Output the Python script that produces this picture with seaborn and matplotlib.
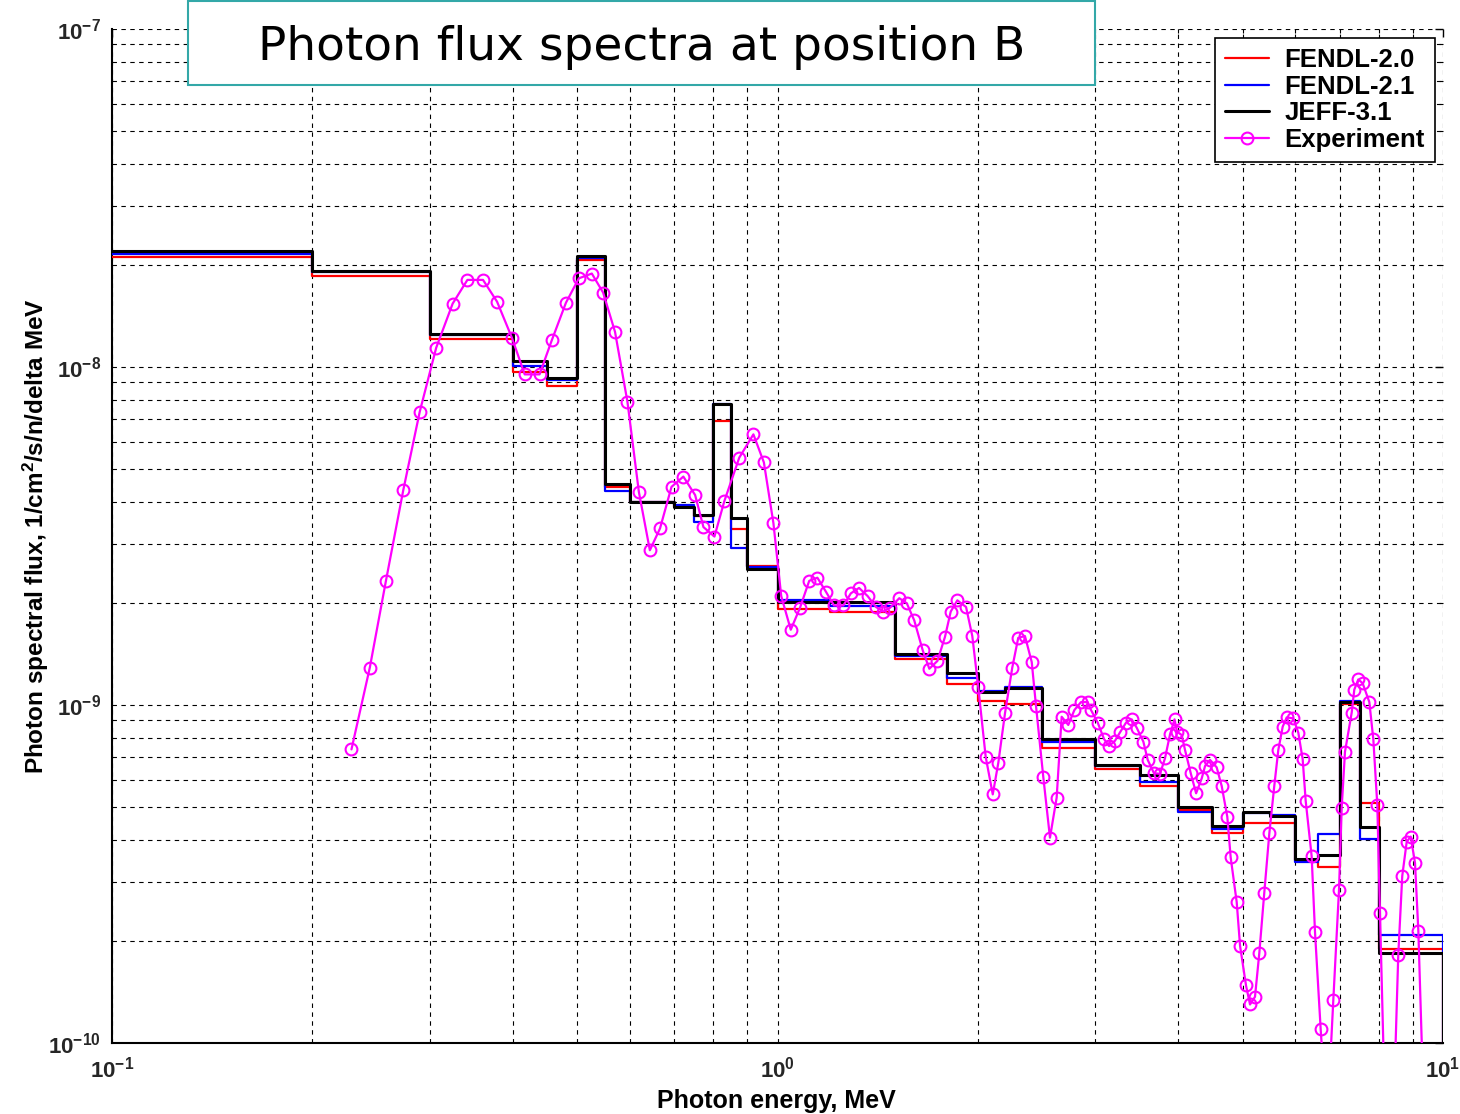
import matplotlib
matplotlib.use("Agg")
import matplotlib.pyplot as plt
from matplotlib.patches import Rectangle
import pandas as pd
import seaborn as sns

# Group boundaries of the calculated spectra, MeV
edges = [0.1, 0.2, 0.3, 0.4, 0.45, 0.5, 0.55, 0.6, 0.7, 0.75, 0.8, 0.85, 0.9, 1.0,
         1.2, 1.5, 1.8, 2.0, 2.2, 2.5, 3.0, 3.5, 4.0, 4.5, 5.0, 5.5, 6.0, 6.5, 7.0,
         7.5, 8.0, 10.0]

# Group fluxes, 1/cm2/s/n/delta MeV
fendl20 = [2.11e-8, 1.86e-8, 1.21e-8, 9.66e-9, 8.78e-9, 2.07e-8, 4.42e-9, 3.99e-9,
           3.85e-9, 3.62e-9, 6.92e-9, 3.32e-9, 2.58e-9, 1.92e-9, 1.88e-9, 1.37e-9,
           1.15e-9, 1.03e-9, 1.007e-9, 7.46e-10, 6.47e-10, 5.76e-10, 4.89e-10,
           4.18e-10, 4.48e-10, 4.48e-10, 3.48e-10, 3.32e-10, 1.007e-9, 5.13e-10,
           1.90e-10]
fendl21 = [2.16e-8, 1.91e-8, 1.24e-8, 1.01e-8, 9.15e-9, 2.10e-8, 4.30e-9, 3.99e-9,
           3.91e-9, 3.48e-9, 7.77e-9, 2.91e-9, 2.56e-9, 2.05e-9, 1.96e-9, 1.40e-9,
           1.20e-9, 1.10e-9, 1.13e-9, 7.77e-10, 6.60e-10, 5.90e-10, 4.82e-10,
           4.30e-10, 4.79e-10, 4.73e-10, 3.43e-10, 4.15e-10, 1.03e-9, 4.01e-10,
           2.09e-10]
jeff31 = [2.20e-8, 1.92e-8, 1.25e-8, 1.04e-8, 9.28e-9, 2.13e-8, 4.51e-9, 3.99e-9,
          3.85e-9, 3.65e-9, 7.77e-9, 3.57e-9, 2.53e-9, 2.02e-9, 2.02e-9, 1.42e-9,
          1.24e-9, 1.09e-9, 1.12e-9, 7.93e-10, 6.66e-10, 6.21e-10, 4.99e-10,
          4.39e-10, 4.82e-10, 4.69e-10, 3.50e-10, 3.60e-10, 1.02e-9, 4.36e-10,
          1.85e-10]

# Measured spectrum
exp_energy = [0.229, 0.244, 0.258, 0.274, 0.290, 0.307, 0.325, 0.342, 0.361, 0.379,
              0.399, 0.417, 0.439, 0.458, 0.481, 0.503, 0.526, 0.547, 0.570, 0.595,
              0.619, 0.643, 0.666, 0.693, 0.722, 0.752, 0.774, 0.804, 0.832, 0.876,
              0.920, 0.954, 0.986, 1.013, 1.047, 1.081, 1.116, 1.148, 1.183, 1.216,
              1.256, 1.289, 1.326, 1.366, 1.406, 1.442, 1.476, 1.524, 1.564, 1.605,
              1.653, 1.691, 1.739, 1.785, 1.821, 1.863, 1.920, 1.962, 2.003, 2.055,
              2.106, 2.147, 2.197, 2.253, 2.300, 2.354, 2.410, 2.446, 2.508, 2.567,
              2.627, 2.673, 2.735, 2.793, 2.858, 2.925, 2.959, 3.028, 3.095, 3.149,
              3.215, 3.271, 3.340, 3.406, 3.465, 3.546, 3.600, 3.679, 3.757, 3.822,
              3.889, 3.950, 3.984, 4.049, 4.096, 4.178, 4.256, 4.340, 4.390, 4.466,
              4.570, 4.650, 4.741, 4.797, 4.898, 4.955, 5.058, 5.129, 5.218, 5.297,
              5.388, 5.483, 5.578, 5.656, 5.743, 5.823, 5.958, 6.062, 6.154, 6.218,
              6.348, 6.422, 6.549, 6.694, 6.842, 6.978, 7.043, 7.124, 7.291, 7.357,
              7.459, 7.573, 7.750, 7.858, 7.967, 8.041, 8.294, 8.566, 8.685, 8.820,
              8.943, 9.077, 9.182, 9.333]
exp_flux = [7.39e-10, 1.29e-9, 2.33e-9, 4.33e-9, 7.37e-9, 1.14e-8, 1.54e-8, 1.81e-8, 1.81e-8, 1.56e-8,
            1.22e-8, 9.51e-9, 9.51e-9, 1.20e-8, 1.55e-8, 1.83e-8, 1.89e-8, 1.66e-8, 1.27e-8, 7.89e-9,
            4.27e-9, 2.87e-9, 3.33e-9, 4.42e-9, 4.74e-9, 4.18e-9, 3.36e-9, 3.15e-9, 4.01e-9, 5.39e-9,
            6.32e-9, 5.22e-9, 3.45e-9, 2.10e-9, 1.67e-9, 1.94e-9, 2.33e-9, 2.38e-9, 2.16e-9, 1.97e-9,
            1.97e-9, 2.14e-9, 2.22e-9, 2.10e-9, 1.95e-9, 1.89e-9, 1.94e-9, 2.07e-9, 2.00e-9, 1.78e-9,
            1.45e-9, 1.28e-9, 1.35e-9, 1.59e-9, 1.89e-9, 2.04e-9, 1.95e-9, 1.60e-9, 1.13e-9, 7.03e-10,
            5.44e-10, 6.75e-10, 9.45e-10, 1.29e-9, 1.58e-9, 1.60e-9, 1.34e-9, 9.93e-10, 6.14e-10, 4.05e-10,
            5.32e-10, 9.23e-10, 8.73e-10, 9.66e-10, 1.02e-9, 1.02e-9, 9.66e-10, 8.87e-10, 7.93e-10, 7.56e-10,
            7.84e-10, 8.30e-10, 8.87e-10, 9.07e-10, 8.57e-10, 7.79e-10, 6.88e-10, 6.28e-10, 6.26e-10, 6.96e-10,
            8.19e-10, 9.07e-10, 8.34e-10, 8.15e-10, 7.36e-10, 6.28e-10, 5.48e-10, 6.07e-10, 6.60e-10, 6.88e-10,
            6.54e-10, 5.76e-10, 4.67e-10, 3.54e-10, 2.61e-10, 1.94e-10, 1.48e-10, 1.30e-10, 1.37e-10, 1.85e-10,
            2.78e-10, 4.17e-10, 5.76e-10, 7.36e-10, 8.63e-10, 9.19e-10, 9.13e-10, 8.28e-10, 6.91e-10, 5.21e-10,
            3.57e-10, 2.13e-10, 1.10e-10, 5.7e-11, 1.34e-10, 2.84e-10, 4.97e-10, 7.27e-10, 9.49e-10, 1.11e-9,
            1.19e-9, 1.16e-9, 1.02e-9, 7.91e-10, 5.06e-10, 2.43e-10, 2.2e-11, 1.82e-10, 3.12e-10, 3.94e-10,
            4.08e-10, 3.41e-10, 2.15e-10, 7.5e-11]

x_ticks = [0.1, 1.0, 10.0]
x_tick_labels = [r"$\mathbf{10^{-1}}$", r"$\mathbf{10^{0}}$", r"$\mathbf{10^{1}}$"]
y_ticks = [1e-10, 1e-9, 1e-8, 1e-7]
y_tick_labels = [r"$\mathbf{10^{-10}}$", r"$\mathbf{10^{-9}}$", r"$\mathbf{10^{-8}}$", r"$\mathbf{10^{-7}}$"]

sns.set_theme(style="white")
plt.rcParams.update({
    "font.family": ["Liberation Sans", "DejaVu Sans"],
    "font.weight": "bold",
    "mathtext.fontset": "custom",
    "mathtext.rm": "Liberation Sans:bold",
    "mathtext.bf": "Liberation Sans:bold",
    "mathtext.it": "Liberation Sans:bold",
    "axes.unicode_minus": True,
})

W, H = 1460, 1114
fig = plt.figure(figsize=(W / 100, H / 100), dpi=100)
fig.patch.set_facecolor("white")
ax = fig.add_axes([112 / W, 1 - 1043 / H, (1443 - 112) / W, (1043 - 29) / H])
ax.set_facecolor("white")
ax.set_xscale("log")
ax.set_yscale("log")


def step_frame(values):
    # close each histogram by dropping to the floor at the last edge
    return pd.DataFrame({"energy": edges, "flux": list(values) + [1e-13]})


series = [
    (fendl20, "#ff0000", 1.6, "FENDL-2.0"),
    (fendl21, "#0000ff", 1.6, "FENDL-2.1"),
    (jeff31, "#000000", 2.2, "JEFF-3.1"),
]
for vals, color, lw, label in series:
    sns.lineplot(data=step_frame(vals), x="energy", y="flux", drawstyle="steps-post",
                 color=color, linewidth=lw, label=label, ax=ax,
                 sort=False, estimator=None, zorder=3)

sns.lineplot(x=exp_energy, y=exp_flux, color="#ff00ff", linewidth=1.6, marker="o",
             markersize=8.5, markerfacecolor="none", markeredgecolor="#ff00ff",
             markeredgewidth=1.5, label="Experiment", ax=ax, sort=False,
             estimator=None, zorder=4)

ax.set_xlim(0.1, 10)
ax.set_ylim(1e-10, 1e-7)

ax.grid(True, which="both", color="black", linestyle=(0, (4, 4)), linewidth=0.8, zorder=1)
ax.set_axisbelow(True)

for side in ("top", "right"):
    ax.spines[side].set_visible(False)
for side in ("left", "bottom"):
    ax.spines[side].set_color("black")
    ax.spines[side].set_linewidth(1.5)

ax.set_xticks(x_ticks)
ax.set_xticklabels(x_tick_labels)
ax.set_yticks(y_ticks)
ax.set_yticklabels(y_tick_labels)
ax.tick_params(which="both", direction="in", top=True, right=True, color="black")
ax.tick_params(which="major", length=6, width=1.0, labelsize=16)
ax.tick_params(axis="y", which="major", pad=8)
ax.tick_params(axis="x", which="major", pad=10)
ax.tick_params(which="minor", length=3, width=0.8)

ax.set_xlabel("Photon energy, MeV", fontsize=18, fontweight="bold", color="black")
ax.set_ylabel("Photon spectral flux, 1/cm$^{\\mathbf{2}}$/s/n/delta MeV", fontsize=17.5,
              fontweight="bold", color="black")
ax.xaxis.set_label_coords(0.499, -0.045)
ax.yaxis.set_label_coords(-0.046, 0.5)

leg = ax.legend(loc="upper right", bbox_to_anchor=(1435 / W, 1 - 38 / H),
                bbox_transform=fig.transFigure, frameon=True, fancybox=False,
                edgecolor="black", framealpha=1, borderaxespad=0,
                prop={"weight": "bold", "size": 18.5}, handlelength=1.7,
                handletextpad=0.6, labelspacing=0.1, borderpad=0.4)
leg.get_frame().set_linewidth(1.2)
leg.set_zorder(20)
for txt in leg.get_texts():
    txt.set_color("black")

# Title panel
fig.add_artist(Rectangle((188 / W, 1 - 85 / H), (1095 - 188) / W, 85 / H - 0.001,
                         transform=fig.transFigure, facecolor="white",
                         edgecolor="#33a8a8", linewidth=1.5, zorder=30))
fig.text((188 + 1095) / 2 / W, 1 - 47 / H, "Photon flux spectra at position B",
         ha="center", va="center", fontsize=33.8, family="DejaVu Sans",
         fontweight="normal", color="black", zorder=31)

fig.savefig("out.png", dpi=100, facecolor="white")
